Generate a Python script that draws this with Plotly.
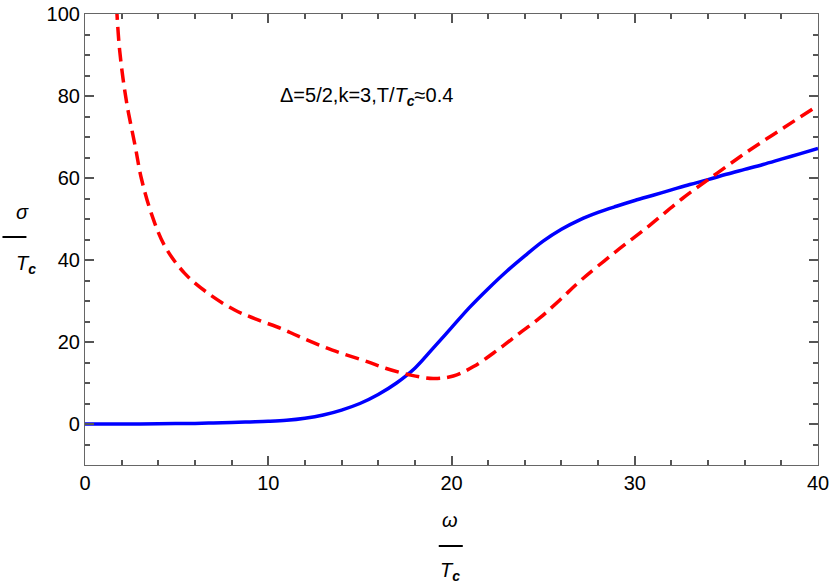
import plotly.graph_objects as go

# omega/Tc values and sigma/Tc for both curves
blue_x = list(range(0, 41))
blue_y = [0, 0, 0, 0.02, 0.05, 0.1, 0.15, 0.25, 0.35, 0.5, 0.65,
          0.9, 1.4, 2.2, 3.4, 5.0, 7.2, 10.0, 13.6, 18.5, 23.5,
          28.5, 33.0, 37.2, 41.0, 44.6, 47.5, 49.8, 51.6, 53.1, 54.5,
          55.8, 57.1, 58.4, 59.6, 60.9, 62.1, 63.3, 64.6, 65.9, 67.2]

red_x = [1.72, 1.89, 2.25, 2.75, 3.07, 3.61, 4.34, 5.43, 6.71, 8.17, 9.44, 10.7, 11.7,
         13.5, 15.4, 16.4, 17.7, 19.0, 20.1, 21.2, 22.5, 23.7, 24.8, 25.9, 27.1, 28.9,
         30.8, 32.6, 34.5, 36.3, 38.15, 40.0]
red_y = [102, 91.2, 79.0, 67.5, 60.0, 51.5, 43.5, 36.8, 31.9, 27.8, 25.4, 23.3, 21.3,
         18.0, 15.2, 13.6, 12.0, 11.1, 11.7, 14.0, 18.0, 22.1, 25.8, 30.2, 35.2, 41.8,
         48.4, 55.0, 61.2, 66.9, 72.3, 77.7]

x_ticks = [0, 10, 20, 30, 40]
y_ticks = [0, 20, 40, 60, 80, 100]

fig = go.Figure()

fig.add_trace(go.Scatter(x=blue_x, y=blue_y, mode="lines", line_shape="spline",
                         line=dict(color="rgb(0,0,255)", width=3.5), showlegend=False))
fig.add_trace(go.Scatter(x=red_x, y=red_y, mode="lines", line_shape="spline",
                         line=dict(color="rgb(255,0,0)", width=3.5, dash="14px,7px"),
                         showlegend=False))

tick_font = dict(family="Liberation Sans, Arial", size=20, color="black")

fig.update_xaxes(range=[0, 40], tickmode="array", tickvals=x_ticks,
                 showline=True, mirror="allticks", linecolor="#666", linewidth=1.2,
                 ticks="inside", ticklen=9, tickcolor="#555", tickwidth=1.5,
                 showgrid=False, zeroline=False, automargin=False, tickfont=tick_font,
                 ticklabeloverflow="allow",
                 minor=dict(dtick=2, ticks="inside", ticklen=5, tickcolor="#555",
                            tickwidth=1.5, showgrid=False))
fig.update_yaxes(range=[-10, 100], tickmode="array", tickvals=y_ticks,
                 showline=True, mirror="allticks", linecolor="#666", linewidth=1.2,
                 ticks="inside", ticklen=9, tickcolor="#555", tickwidth=1.5,
                 showgrid=False, zeroline=False, automargin=False, tickfont=tick_font,
                 ticklabeloverflow="allow",
                 minor=dict(dtick=5, ticks="inside", ticklen=5, tickcolor="#555",
                            tickwidth=1.5, showgrid=False))

lab_font = dict(family="Liberation Sans, Arial", size=20, color="black")

# text inside the plot
fig.add_annotation(x=15.35, y=79.8, xref="x", yref="y", showarrow=False,
                   text="Δ=5/2,k=3,T/<i>T</i><sub><b><i>c</i></b></sub>≈0.4",
                   font=dict(family="Liberation Sans, Arial", size=20, color="black"))

# y label as a fraction sigma / Tc
fig.add_annotation(x=-0.0962, y=0.561, xref="paper", yref="paper", showarrow=False,
                   text="<i>σ</i>", font=lab_font)
fig.add_annotation(x=-0.0962, y=0.445, xref="paper", yref="paper", showarrow=False,
                   text="<i>T</i><sub><b><i>c</i></b></sub>", font=lab_font)
fig.add_shape(type="line", xref="paper", yref="paper", x0=-0.1126, x1=-0.0799,
              y0=0.5055, y1=0.5055, line=dict(color="black", width=2))

# x label as a fraction omega / Tc
fig.add_annotation(x=0.4976, y=-0.128, xref="paper", yref="paper", showarrow=False,
                   text="<i>ω</i>", font=lab_font, yshift=-10)
fig.add_annotation(x=0.4976, y=-0.24, xref="paper", yref="paper", showarrow=False,
                   text="<i>T</i><sub><b><i>c</i></b></sub>", font=lab_font, yshift=-13)
fig.add_shape(type="line", xref="paper", yref="paper", x0=0.4826, x1=0.5154,
              y0=-0.1796, y1=-0.1796, line=dict(color="black", width=2))

fig.update_layout(
    width=830, height=585,
    margin=dict(l=85, r=12, t=14, b=120),
    plot_bgcolor="white", paper_bgcolor="white",
)

# drop the default 8px body margin so the figure fills the window
fig.write_html("out.html", config={"displayModeBar": False},
               post_script="document.body.style.margin='0';")
